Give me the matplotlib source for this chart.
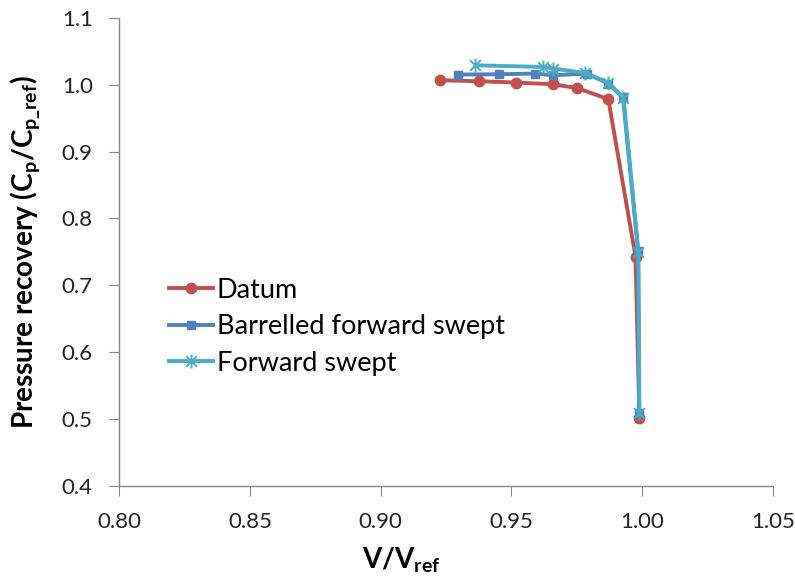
import numpy as np
import matplotlib
matplotlib.use("Agg")
import matplotlib.pyplot as plt
from matplotlib.path import Path

plt.rcParams["font.family"] = ["Lato", "DejaVu Sans"]
plt.rcParams["mathtext.fontset"] = "custom"
plt.rcParams["mathtext.rm"] = "Lato"
plt.rcParams["mathtext.bf"] = "Lato:bold"

# ── Data ───────────────────────────────────────────────────────────────────────
datum_v = [0.9227, 0.9378, 0.9518, 0.9659, 0.9750, 0.9871, 0.9975, 0.9990]
datum_cp = [1.0067, 1.0052, 1.0033, 1.0007, 0.9952, 0.9784, 0.7430, 0.5018]

barrel_v = [0.9295, 0.9454, 0.9591, 0.9661, 0.9789, 0.9870, 0.9927, 0.9985, 0.9989]
barrel_cp = [1.0152, 1.0157, 1.0167, 1.0142, 1.0167, 1.0018, 0.9813, 0.7510, 0.5090]

fwd_v = [0.9362, 0.9620, 0.9661, 0.9782, 0.9871, 0.9929, 0.9986, 0.9990]
fwd_cp = [1.0291, 1.0266, 1.0242, 1.0176, 1.0033, 0.9803, 0.7500, 0.5087]

x_ticks = [0.80, 0.85, 0.90, 0.95, 1.00, 1.05]
y_ticks = [0.4, 0.5, 0.6, 0.7, 0.8, 0.9, 1.0, 1.1]

# Excel-style star: an X with a vertical bar through it
star = Path([(-1, -1), (1, 1), (-1, 1), (1, -1), (0, -1.3), (0, 1.3)],
            [Path.MOVETO, Path.LINETO, Path.MOVETO, Path.LINETO,
             Path.MOVETO, Path.LINETO])

C_RED = "#C0504D"
C_BLUE = "#4F81BD"
C_CYAN = "#4BACC6"
C_AXIS = "#868686"

fig = plt.figure(figsize=(7.95, 5.77), dpi=100)
ax = fig.add_axes([0.150, 0.158, 0.822, 0.811])

ax.plot(datum_v, datum_cp, color=C_RED, lw=2.8, marker="o", ms=7.5,
        label="Datum", zorder=3)
ax.plot(barrel_v, barrel_cp, color=C_BLUE, lw=2.8, marker="s", ms=6,
        label="Barrelled forward swept", zorder=4)
ax.plot(fwd_v, fwd_cp, color=C_CYAN, lw=2.8, marker=star, ms=10, mew=1.4,
        label="Forward swept", zorder=5)

ax.set_xlim(0.80, 1.05)
ax.set_ylim(0.4, 1.1)
ax.set_xticks(x_ticks)
ax.set_xticklabels([f"{t:.2f}" for t in x_ticks])
ax.set_yticks(y_ticks)
ax.set_yticklabels([f"{t:.1f}" for t in y_ticks])
ax.tick_params(labelsize=16, length=7, color=C_AXIS, direction="out",
               labelcolor="#222222")
ax.tick_params(axis="x", pad=12)
ax.tick_params(axis="y", pad=12)

for side in ["top", "right"]:
    ax.spines[side].set_visible(False)
for side in ["left", "bottom"]:
    ax.spines[side].set_color(C_AXIS)
    ax.spines[side].set_linewidth(1.0)

ax.set_xlabel(r"V/V$_\mathbf{ref}$", fontsize=20, fontweight="bold")
ax.xaxis.set_label_coords(0.431, -0.127)
ax.set_ylabel(r"Pressure recovery (C$_\mathbf{p}$/C$_\mathbf{p\_ref}$)",
              fontsize=20, fontweight="bold")
ax.yaxis.set_label_coords(-0.117, 0.5)

ax.legend(loc="center left", bbox_to_anchor=(0.06, 0.34), frameon=False,
          fontsize=19.5, handlelength=1.6, handletextpad=0.15, labelspacing=0.42,
          borderaxespad=0)

fig.savefig("out.png", dpi=100)
